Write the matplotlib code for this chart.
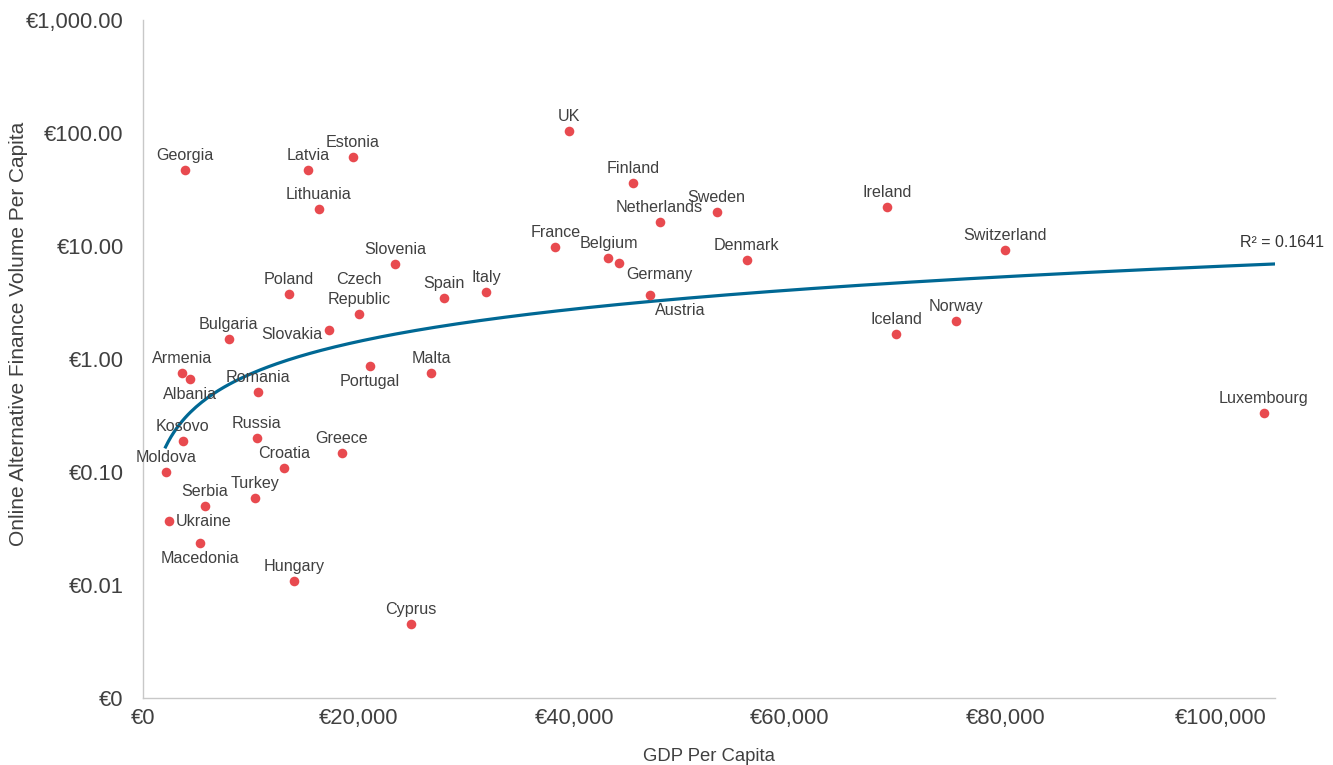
import numpy as np
import matplotlib
matplotlib.use("Agg")
import matplotlib.pyplot as plt
from matplotlib.ticker import FuncFormatter, FixedLocator

# ================= DATA =================
countries = ["Georgia", "Latvia", "Estonia", "Lithuania", "UK", "Finland", "Netherlands",
             "Sweden", "France", "Belgium", "Germany", "Denmark", "Austria", "Ireland",
             "Switzerland", "Iceland", "Norway", "Luxembourg", "Slovenia", "Poland",
             "Czech\nRepublic", "Spain", "Italy", "Bulgaria", "Slovakia", "Armenia",
             "Albania", "Romania", "Portugal", "Malta", "Kosovo", "Russia", "Greece",
             "Croatia", "Moldova", "Turkey", "Serbia", "Ukraine", "Macedonia", "Hungary",
             "Cyprus"]
gdp = [3860, 15290, 19470, 16310, 39550, 45490, 47910,
       53210, 38250, 43170, 44190, 56000, 47070, 69010,
       79980, 69840, 75420, 103950, 23370, 13520,
       20030, 27930, 31830, 7950, 17240, 3580,
       4320, 10640, 21050, 26720, 3670, 10550, 18450,
       13060, 2090, 10360, 5720, 2370, 5250, 13990,
       24860]
volume = [47.1, 47.1, 61.3, 21.2, 104.0, 36.1, 16.3,
          20.0, 9.8, 7.83, 7.07, 7.52, 3.68, 22.1,
          9.22, 1.66, 2.17, 0.333, 6.93, 3.76,
          2.50, 3.47, 3.92, 1.50, 1.81, 0.752,
          0.665, 0.511, 0.867, 0.752, 0.188, 0.200, 0.147,
          0.108, 0.100, 0.0589, 0.050, 0.0368, 0.0235, 0.0108,
          0.00452]
y_ticks = [0.001, 0.01, 0.1, 1, 10, 100, 1000]
x_ticks = [0, 20000, 40000, 60000, 80000, 100000]

# power trendline y = coef * x^exp
trend_coef = 1.15e-4
trend_exp = 0.952
trend_x_end = 105000
r2_label = "R² = 0.1641"

# label placement: where the name goes relative to its dot
below = {"Albania", "Portugal", "Macedonia"}
right_below = {"Germany", "Austria"}
right = {"Ukraine"}
left = {"Slovakia"}

# ================= STYLE =================
plt.rcParams['font.family'] = ['Liberation Sans', 'DejaVu Sans']
text_col = "#404040"
dot_col = "#E84A4F"
line_col = "#006894"

fig = plt.figure(figsize=(13.33, 7.65), dpi=100)
ax = fig.add_axes([0.1073, 0.0876, 0.8492, 0.8863])

ax.scatter(gdp, volume, s=48, color=dot_col, zorder=3, linewidths=0)

# ================= TRENDLINE =================
xs = np.linspace(min(gdp), trend_x_end, 400)
ys = trend_coef * xs ** trend_exp
ax.plot(xs, ys, color=line_col, lw=2.3, zorder=2)
ax.annotate(r2_label, (xs[-1], ys[-1]), xytext=(5, 10), textcoords="offset points",
            ha="center", va="bottom", fontsize=11.5, color="#333333")

# ================= LABELS =================
for name, x, y in zip(countries, gdp, volume):
    if name in below:
        off, ha, va = (0, -6), "center", "top"
    elif name in right_below:
        off, ha, va = (5, -3), "left", "top"
    elif name in right:
        off, ha, va = (5, 0), "left", "center"
    elif name in left:
        off, ha, va = (-5, -3), "right", "center"
    else:
        off, ha, va = (0, 5), "center", "bottom"
    if name == "Austria":
        off = (3, -6)
    ax.annotate(name, (x, y), xytext=off, textcoords="offset points",
                ha=ha, va=va, fontsize=11.6, color=text_col, linespacing=1.4)

# ================= AXES =================
ax.set_yscale("log")
ax.set_ylim(0.001, 1000)
ax.set_xlim(0, 105000)
ax.yaxis.set_major_locator(FixedLocator(y_ticks))
ax.yaxis.set_minor_locator(FixedLocator([]))
ax.xaxis.set_major_locator(FixedLocator(x_ticks))
ax.yaxis.set_major_formatter(FuncFormatter(
    lambda v, p: "€0" if v < 0.005 else "€{:,.2f}".format(v)))
ax.xaxis.set_major_formatter(FuncFormatter(lambda v, p: "€{:,.0f}".format(v)))
ax.tick_params(axis="both", length=0, labelsize=15.8, colors=text_col)
ax.tick_params(axis="y", pad=14)
ax.tick_params(axis="x", pad=7)

for s in ["top", "right"]:
    ax.spines[s].set_visible(False)
for s in ["left", "bottom"]:
    ax.spines[s].set_color("#C8C8C8")
    ax.spines[s].set_linewidth(1.0)

ax.set_xlabel("GDP Per Capita", fontsize=13.3, color=text_col, labelpad=14)
ax.set_ylabel("Online Alternative Finance Volume Per Capita", fontsize=15,
              color=text_col)
ax.yaxis.set_label_coords(-0.102, 0.537)

fig.savefig("out.png", dpi=100)
